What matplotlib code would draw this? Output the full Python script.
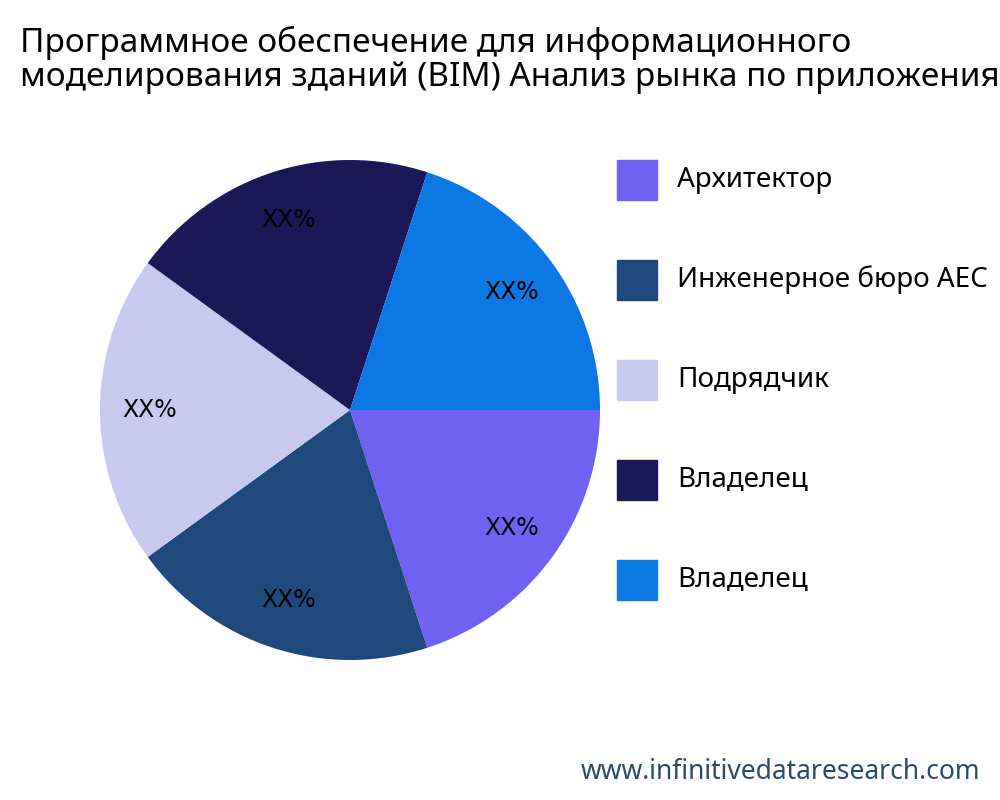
import matplotlib
matplotlib.use("Agg")
import matplotlib.pyplot as plt
from matplotlib.patches import Rectangle

plt.rcParams['font.family'] = ['Noto Sans', 'DejaVu Sans']

labels = ["Архитектор", "Инженерное бюро AEC", "Подрядчик", "Владелец", "Владелец"]
values = [20, 20, 20, 20, 20]
colors = ["#6F61F2", "#1F497D", "#C9C9F0", "#1C1757", "#0B78E3"]

fig = plt.figure(figsize=(10, 8), dpi=100)
fig.text(0.02, 0.925, "Программное обеспечение для информационного\nмоделирования зданий (BIM) Анализ рынка по приложениям",
         fontsize=24, va="center", ha="left", linespacing=1.05)

ax = fig.add_axes([0.1, 0.175, 0.5, 0.625])
ax.pie(values, colors=colors, startangle=0, counterclock=False,
       autopct=lambda p: "XX%", pctdistance=0.8,
       textprops={"fontsize": 17, "family": "DejaVu Sans"})
ax.set_xlim(-1, 1)
ax.set_ylim(-1, 1)
ax.set_aspect("equal")

for i, (lab, col) in enumerate(zip(labels, colors)):
    y = 1 - (180 + 100 * i) / 800
    fig.patches.append(Rectangle((0.617, y - 0.025), 0.04, 0.05, color=col,
                                 transform=fig.transFigure, figure=fig))
    fig.text(0.677, y, lab, fontsize=20, va="center", ha="left")

fig.text(0.98, 0.035, "www.infinitivedataresearch.com", fontsize=19,
         color="#2a4a6e", ha="right", va="center")

fig.savefig("out.png")
